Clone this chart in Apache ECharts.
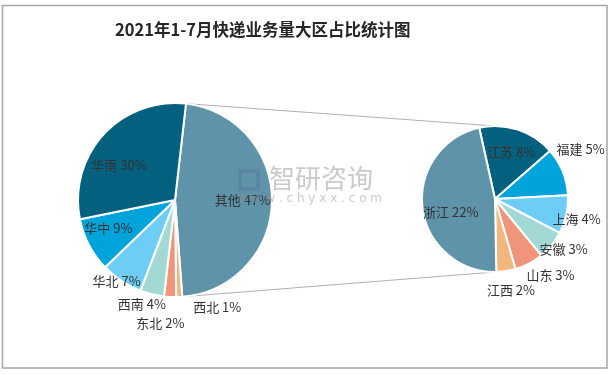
<html>
<head>
    <meta charset="utf-8">
    <script src="https://cdn.jsdelivr.net/npm/echarts@6/dist/echarts.min.js"></script>
    <style>
        body { margin: 0; background: #fff; }
        #main { width: 614px; height: 375px; }
    </style>
</head>
<body>
    <div id="main"></div>
    <script>
        // 大区占比 (%)
        var regionNames = ['其他', '西北', '东北', '西南', '华北', '华中', '华南'];
        var regionValues = [47, 1, 2, 4, 7, 9, 30];
        // "其他" 拆分 (%)
        var provNames = ['江苏', '福建', '上海', '安徽', '山东', '江西', '浙江'];
        var provValues = [8, 5, 4, 3, 3, 2, 22];

        var leftColors = ['#5e93aa', '#f2b77f', '#f0957b', '#a3d9d5', '#6dcdf4', '#00a3da', '#03607f'];
        var rightColors = ['#03607f', '#00a3da', '#6dcdf4', '#a3d9d5', '#f0957b', '#f2b77f', '#5e93aa'];

        var leftCenter = [175, 200], leftR = 97, leftStart = 83.5;
        var rightCenter = [495, 199], rightR = 73, rightStart = 102.5;

        // 标签相对扇区内部默认位置的偏移 (px)
        var leftShift = [[16, -1], [40, 56], [-12, 72], [-21, 54], [-30, 38], [-21, 4], [-18, 0]];
        var rightShift = [[4, -9], [49, -35], [43, 12], [38, 25], [37, 41], [10, 52], [-5, 8]];

        function build(names, values, colors) {
            return names.map(function (n, i) {
                return { name: n, value: values[i], itemStyle: { color: colors[i] } };
            });
        }

        // 连接线：从"其他"扇区两端到右侧饼图顶/底
        var total = regionValues.reduce(function (a, b) { return a + b; }, 0);
        var a0 = (90 - leftStart) * Math.PI / 180;
        var a1 = a0 + regionValues[0] / total * Math.PI * 2;
        function pt(c, r, a) { return [c[0] + r * Math.sin(a), c[1] - r * Math.cos(a)]; }
        var p0 = pt(leftCenter, leftR, a0), p1 = pt(leftCenter, leftR, a1);
        var q0 = [rightCenter[0], rightCenter[1] - rightR], q1 = [rightCenter[0], rightCenter[1] + rightR];

        var labelStyle = {
            show: true,
            position: 'inside',
            formatter: '{b} {c}%',
            color: '#333333',
            fontSize: 13,
            fontFamily: 'Noto Sans CJK SC',
            textBorderWidth: 0,
            textShadowBlur: 0
        };

        function shiftFn(shift) {
            return function (params) {
                var s = shift[params.dataIndex];
                return { dx: s[0], dy: s[1] };
            };
        }

        var myChart = echarts.init(document.getElementById('main'));
        var option = {
            animation: false,
            title: {
                text: '2021年1-7月快递业务量大区占比统计图',
                left: 110,
                top: 16,
                textStyle: {
                    color: '#262626',
                    fontSize: 16.5,
                    fontWeight: 'bold',
                    fontFamily: 'Noto Sans CJK SC'
                }
            },
            graphic: [
                {
                    type: 'rect',
                    shape: { x: 2.5, y: 5.5, width: 604.5, height: 362.5 },
                    style: { fill: 'none', stroke: '#a6a6a6', lineWidth: 1.5 },
                    z: 0
                },
                {
                    type: 'line',
                    shape: { x1: p0[0], y1: p0[1], x2: q0[0], y2: q0[1] },
                    style: { stroke: '#b0b0b0', lineWidth: 1 }
                },
                {
                    type: 'line',
                    shape: { x1: p1[0], y1: p1[1], x2: q1[0], y2: q1[1] },
                    style: { stroke: '#b0b0b0', lineWidth: 1 }
                },
                {
                    type: 'text',
                    x: 269, y: 165,
                    z: 100,
                    style: {
                        text: '智研咨询',
                        fill: 'rgba(150,150,150,0.5)',
                        font: '26px "Noto Sans CJK SC"'
                    }
                },
                {
                    type: 'text',
                    x: 238, y: 193,
                    z: 100,
                    style: {
                        text: 'w w w . c h y x x . c o m',
                        fill: 'rgba(150,150,150,0.5)',
                        font: '12px "DejaVu Sans"'
                    }
                },
                {
                    type: 'rect',
                    shape: { x: 240, y: 171, width: 18, height: 18 },
                    z: 100,
                    style: { fill: 'none', stroke: 'rgba(80,110,150,0.3)', lineWidth: 4 }
                }
            ],
            series: [
                {
                    type: 'pie',
                    center: leftCenter,
                    radius: leftR,
                    startAngle: leftStart,
                    clockwise: true,
                    avoidLabelOverlap: false,
                    itemStyle: { borderColor: '#fff', borderWidth: 2 },
                    label: labelStyle,
                    labelLine: { show: false },
                    labelLayout: shiftFn(leftShift),
                    data: build(regionNames, regionValues, leftColors)
                },
                {
                    type: 'pie',
                    center: rightCenter,
                    radius: rightR,
                    startAngle: rightStart,
                    clockwise: true,
                    avoidLabelOverlap: false,
                    itemStyle: { borderColor: '#fff', borderWidth: 2 },
                    label: labelStyle,
                    labelLine: { show: false },
                    labelLayout: shiftFn(rightShift),
                    data: build(provNames, provValues, rightColors)
                }
            ]
        };
        myChart.setOption(option);
        window.onresize = myChart.resize;
    </script>
</body>
</html>
